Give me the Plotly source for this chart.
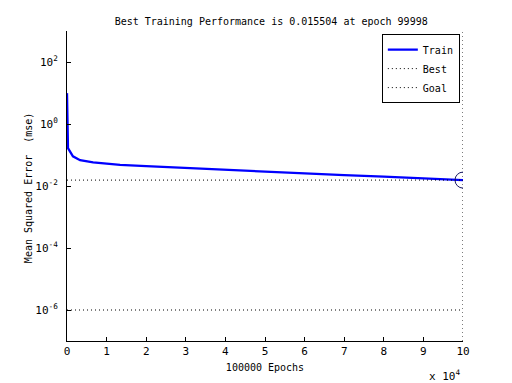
import plotly.graph_objects as go

# Data
epochs = [0, 250, 1500, 3300, 6600, 13400, 20000, 30000, 40000, 50000,
          60000, 70000, 80000, 90000, 99998]
train_mse = [9.9, 0.166, 0.091, 0.068, 0.058, 0.048, 0.0437, 0.038, 0.0331,
             0.0288, 0.0257, 0.0224, 0.020, 0.0174, 0.015504]
best_epoch = 99998
best_perf = 0.015504
goal = 1e-6
x_ticks = [0, 10000, 20000, 30000, 40000, 50000, 60000, 70000, 80000, 90000, 100000]
x_tick_labels = ["0", "1", "2", "3", "4", "5", "6", "7", "8", "9", "10"]
y_ticks = [1e2, 1e0, 1e-2, 1e-4, 1e-6]
y_tick_labels = ["10<sup>2</sup>", "10<sup>0</sup>", "10<sup>-2</sup>",
                 "10<sup>-4</sup>", "10<sup>-6</sup>"]

FONT = "DejaVu Sans Mono"
DOT = "1px,3px"

fig = go.Figure()
fig.add_trace(go.Scatter(x=epochs, y=train_mse, mode="lines", name="Train",
                         line=dict(color="#0000ff", width=2.3)))
fig.add_trace(go.Scatter(x=[0, best_epoch], y=[best_perf, best_perf], mode="lines",
                         name="Best", line=dict(color="black", width=1, dash=DOT)))
fig.add_trace(go.Scatter(x=[0, best_epoch], y=[goal, goal], mode="lines",
                         name="Goal", line=dict(color="black", width=1, dash=DOT)))
fig.add_trace(go.Scatter(x=[best_epoch, best_epoch], y=[1e-7, 1e3], mode="lines",
                         showlegend=False, line=dict(color="black", width=1, dash=DOT)))
fig.add_trace(go.Scatter(x=[best_epoch], y=[best_perf], mode="markers", showlegend=False,
                         marker=dict(symbol="circle-open", size=16,
                                     color="#1a1a66", line=dict(width=1))))

# The page body adds an 8px offset, so margins are reduced by 8 on left/top.
fig.update_layout(
    width=512, height=383,
    margin=dict(l=59, r=57, t=23, b=50),
    paper_bgcolor="white", plot_bgcolor="white",
    font=dict(family=FONT, size=10, color="black"),
    title=dict(text="Best Training Performance is 0.015504 at epoch 99998",
               x=0.514, xanchor="center", y=0.965, yanchor="middle",
               font=dict(family=FONT, size=10, color="black")),
    showlegend=True,
    legend=dict(x=0.992, y=0.99, xanchor="right", yanchor="top",
                bgcolor="white", bordercolor="black", borderwidth=1,
                font=dict(family=FONT, size=10), tracegroupgap=0,
                itemwidth=30),
    xaxis=dict(range=[0, 100000], tickvals=x_ticks, ticktext=x_tick_labels,
               ticks="inside", ticklen=4, tickcolor="black",
               showline=True, linecolor="black", linewidth=1,
               showgrid=False, zeroline=False, automargin=False,
               tickfont=dict(size=11),
               title=dict(text="100000 Epochs", standoff=6, font=dict(size=10))),
    yaxis=dict(type="log", range=[-7, 3], tickvals=y_ticks, ticktext=y_tick_labels,
               ticks="inside", ticklen=4, tickcolor="black",
               showline=True, linecolor="black", linewidth=1,
               showgrid=False, zeroline=False, automargin=False,
               tickfont=dict(size=11), ticklabelstandoff=6),
)

fig.add_annotation(text="Mean Squared Error  (mse)", xref="paper", yref="paper",
                   x=-0.097, y=0.495, xanchor="center", yanchor="middle",
                   textangle=-90, showarrow=False, font=dict(family=FONT, size=10))

fig.add_annotation(text="x 10<sup>4</sup>", xref="paper", yref="paper",
                   x=1.0, y=-0.08, xanchor="right", yanchor="top",
                   showarrow=False, font=dict(family=FONT, size=11))

fig.write_html("out.html")
